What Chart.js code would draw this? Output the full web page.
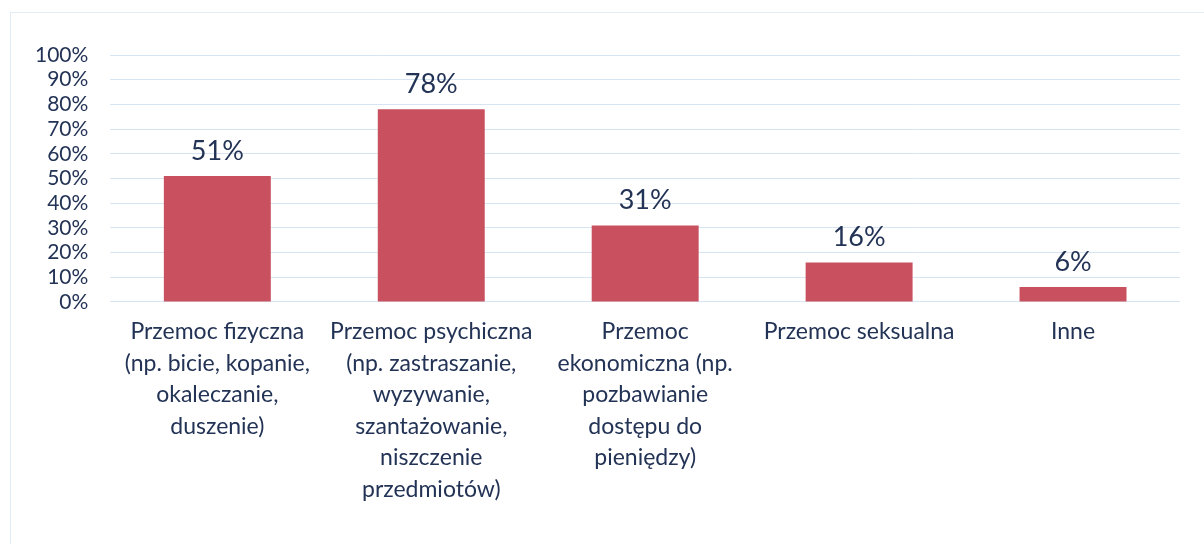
<!DOCTYPE html>
<html>
<head>
<meta charset="utf-8">
<script src="https://cdn.jsdelivr.net/npm/chart.js@4"></script>
<style>
  html, body { margin: 0; padding: 0; background: #fff; }
  #wrap { position: absolute; left: 0; top: 0; width: 1204px; height: 544px; }
  #frame { position: absolute; left: 10px; top: 12px; width: 1200px; height: 540px;
           border-left: 1px solid #e3ecf3; border-top: 1px solid #e3ecf3; }
</style>
</head>
<body>
<div id="wrap">
  <div id="frame"></div>
  <canvas id="violenceChart" width="1204" height="544"></canvas>
</div>
<script>
var categories = [
  ['Przemoc fizyczna', '(np. bicie, kopanie,', 'okaleczanie,', 'duszenie)'],
  ['Przemoc psychiczna', '(np. zastraszanie,', 'wyzywanie,', 'szantażowanie,', 'niszczenie', 'przedmiotów)'],
  ['Przemoc', 'ekonomiczna (np.', 'pozbawianie', 'dostępu do', 'pieniędzy)'],
  ['Przemoc seksualna'],
  ['Inne']
];
var shares = [51, 78, 31, 16, 6];

var textColor = '#233355';
var fontFamily = "Lato, 'Open Sans', sans-serif";

var valueLabels = {
  id: 'valueLabels',
  afterDatasetsDraw: function(chart) {
    var ctx = chart.ctx;
    var meta = chart.getDatasetMeta(0);
    ctx.save();
    ctx.font = '27px ' + fontFamily;
    ctx.fillStyle = textColor;
    ctx.textAlign = 'center';
    ctx.textBaseline = 'alphabetic';
    meta.data.forEach(function(bar, i) {
      ctx.fillText(shares[i] + '%', bar.x, bar.y - 16);
    });
    ctx.restore();
  }
};

new Chart(document.getElementById('violenceChart'), {
  type: 'bar',
  data: {
    labels: categories,
    datasets: [{
      data: shares,
      backgroundColor: '#c9505f',
      barPercentage: 0.5,
      categoryPercentage: 1
    }]
  },
  options: {
    responsive: false,
    animation: false,
    layout: { padding: { left: 13, right: 24, top: 55, bottom: 33 } },
    plugins: {
      legend: { display: false },
      tooltip: { enabled: false }
    },
    scales: {
      x: {
        grid: { display: false },
        border: { display: false },
        ticks: {
          color: textColor,
          font: { family: fontFamily, size: 23, lineHeight: 1.37 },
          maxRotation: 0,
          autoSkip: false,
          padding: 6
        }
      },
      y: {
        min: 0,
        max: 100,
        grid: { color: '#d6e5f1', drawTicks: false },
        border: { display: false },
        ticks: {
          stepSize: 10,
          autoSkip: false,
          color: textColor,
          font: { family: fontFamily, size: 21, lineHeight: 1 },
          padding: 22,
          callback: function(v) { return v + '%'; }
        }
      }
    }
  },
  plugins: [valueLabels]
});
</script>
</body>
</html>
